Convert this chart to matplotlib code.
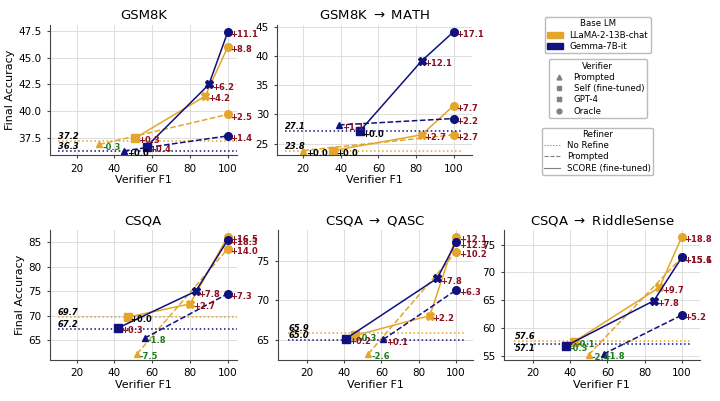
import matplotlib
matplotlib.use("Agg")
import matplotlib.pyplot as plt
from matplotlib.lines import Line2D
from matplotlib.patches import Patch

plt.rcParams['font.family'] = ['DejaVu Sans']

titles = ["GSM8K", "GSM8K $\\rightarrow$ MATH", "CSQA", "CSQA $\\rightarrow$ QASC", "CSQA $\\rightarrow$ RiddleSense"]

# no-refine baselines
base_llama = [37.2, 23.8, 69.7, 65.9, 57.6]
base_gemma = [36.3, 27.1, 67.2, 65.0, 57.1]

# LLaMA-2-13B-chat
llama_prompt_f1 = [32, 20, 52, 53, 50]
llama_prompt_acc = [36.9, 23.8, 62.2, 63.3, 55.2]
llama_self_f1 = [51, 36, 47, 46, 42]
llama_self_acc = [37.5, 23.8, 69.7, 65.6, 57.5]
llama_gpt4_f1 = [88, 83, 80, 86, 88]
llama_gpt4_acc = [41.4, 26.5, 72.4, 68.1, 67.3]
llama_oracle_score = [46.0, 31.5, 86.2, 78.0, 76.4]
llama_oracle_prompt = [39.7, 26.5, 83.7, 76.1, 72.7]

# Gemma-7B-it
gemma_prompt_f1 = [45, 39, 56, 61, 58]
gemma_prompt_acc = [36.3, 28.2, 65.4, 65.1, 55.3]
gemma_self_f1 = [57, 50, 42, 41, 38]
gemma_self_acc = [36.7, 27.1, 67.5, 65.2, 56.8]
gemma_gpt4_f1 = [90, 83, 83, 90, 85]
gemma_gpt4_acc = [42.5, 39.2, 75.0, 72.8, 64.9]
gemma_oracle_score = [47.4, 44.2, 85.5, 77.3, 72.7]
gemma_oracle_prompt = [37.7, 29.3, 74.5, 71.3, 62.3]

oracle_f1 = 100

yticks = [[37.5, 40.0, 42.5, 45.0, 47.5], [25, 30, 35, 40, 45], [65, 70, 75, 80, 85],
          [65, 70, 75], [55, 60, 65, 70, 75]]
ylims = [(35.9, 48.05), (23.0, 45.4), (60.9, 87.5), (62.5, 78.85), (54.2, 77.6)]
xlims = [(5.7, 104.8), (6.1, 110), (5.7, 104.8), (4.4, 109.2), (4.4, 109.7)]

ORANGE = "#E3A62A"
NAVY = "#10107E"
RED = "#8B1020"
GREEN = "#1E7B1E"

positions = [
    [0.069, 0.613, 0.260, 0.325],
    [0.385, 0.613, 0.271, 0.325],
    [0.069, 0.102, 0.260, 0.324],
    [0.386, 0.102, 0.271, 0.324],
    [0.700, 0.102, 0.272, 0.324],
]

fig = plt.figure(figsize=(7.2, 4.01), dpi=100)


def label(ax, x, y, base, dx=2, dy=-2):
    d = round(y - base, 1)
    if abs(d) < 0.05:
        txt, col = "+0.0", "black"
    elif d > 0:
        txt, col = f"+{d:.1f}", RED
    else:
        txt, col = f"{d:.1f}", GREEN
    ax.annotate(txt, (x, y), xytext=(dx, dy), textcoords="offset points",
                ha="left", va="center", fontsize=6, fontweight="bold", color=col)


for i, pos in enumerate(positions):
    ax = fig.add_axes(pos)
    ax.grid(True, color="#dddddd", linewidth=0.7)
    ax.set_axisbelow(True)
    for s in ["top", "right"]:
        ax.spines[s].set_visible(False)
    for s in ["left", "bottom"]:
        ax.spines[s].set_color("#444444")
        ax.spines[s].set_linewidth(0.8)

    models = [
        (ORANGE, base_llama[i], llama_prompt_f1[i], llama_prompt_acc[i], llama_self_f1[i], llama_self_acc[i],
         llama_gpt4_f1[i], llama_gpt4_acc[i], llama_oracle_score[i], llama_oracle_prompt[i]),
        (NAVY, base_gemma[i], gemma_prompt_f1[i], gemma_prompt_acc[i], gemma_self_f1[i], gemma_self_acc[i],
         gemma_gpt4_f1[i], gemma_gpt4_acc[i], gemma_oracle_score[i], gemma_oracle_prompt[i]),
    ]
    low = min(base_llama[i], base_gemma[i])
    close = abs(base_llama[i] - base_gemma[i]) < 0.6
    for col, base, pf1, pacc, sf1, sacc, gf1, gacc, osc, opr in models:
        ax.hlines(base, 10, 105, colors=col, linestyles=":", linewidth=1.1)
        va = "top" if (close and base == low) else "bottom"
        ax.text(10, base, f"{base:.1f}", ha="left", va=va, fontsize=6,
                fontweight="bold", fontstyle="italic", color="black")
        # prompted refiner
        ax.plot([pf1, oracle_f1], [pacc, opr], color=col, linestyle="--", linewidth=1.1)
        ax.plot(pf1, pacc, marker="^", color=col, markersize=5, linestyle="none")
        ax.plot(oracle_f1, opr, marker="o", color=col, markersize=5.5, linestyle="none")
        # SCORE refiner
        ax.plot([sf1, gf1, oracle_f1], [sacc, gacc, osc], color=col, linestyle="-", linewidth=1.1)
        ax.plot(sf1, sacc, marker="s", color=col, markersize=6, linestyle="none")
        ax.plot(gf1, gacc, marker="X", color=col, markersize=5.5, linestyle="none")
        ax.plot(oracle_f1, osc, marker="o", color=col, markersize=5.5, linestyle="none")
        label(ax, pf1, pacc, base)
        label(ax, sf1, sacc, base)
        label(ax, gf1, gacc, base)
        label(ax, oracle_f1, osc, base)
        label(ax, oracle_f1, opr, base)

    ax.set_xlim(*xlims[i])
    ax.set_ylim(*ylims[i])
    ax.set_xticks([20, 40, 60, 80, 100])
    ax.set_yticks(yticks[i])
    ax.tick_params(labelsize=7.5, length=2.5, color="#444444")
    ax.set_title(titles[i], fontsize=9.5, pad=4)
    ax.set_xlabel("Verifier F1", fontsize=8, labelpad=1)
    if i in (0, 2):
        ax.set_ylabel("Final Accuracy", fontsize=8, labelpad=2)

leg_kw = dict(fontsize=6.2, title_fontsize=6.2, frameon=True, edgecolor="#aaaaaa",
              handlelength=1.8, borderpad=0.3, labelspacing=0.25, handletextpad=0.8,
              borderaxespad=0)

h1 = [Patch(facecolor=ORANGE, edgecolor=ORANGE), Patch(facecolor=NAVY, edgecolor=NAVY)]
fig.legend(h1, ["LLaMA-2-13B-chat", "Gemma-7B-it"], title="Base LM",
           loc="upper center", bbox_to_anchor=(0.83, 0.958), **leg_kw)

h2 = [Line2D([], [], marker=m, color="gray", linestyle="none", markersize=3.5) for m in ["^", "s", "X", "o"]]
fig.legend(h2, ["Prompted", "Self (fine-tuned)", "GPT-4", "Oracle"], title="Verifier",
           loc="upper center", bbox_to_anchor=(0.83, 0.852), **leg_kw)

h3 = [Line2D([], [], color="gray", linestyle=ls, linewidth=0.8) for ls in [":", "--", "-"]]
fig.legend(h3, ["No Refine", "Prompted", "SCORE (fine-tuned)"], title="Refiner",
           loc="upper center", bbox_to_anchor=(0.83, 0.682), **leg_kw)

fig.savefig("out.png", dpi=100)
